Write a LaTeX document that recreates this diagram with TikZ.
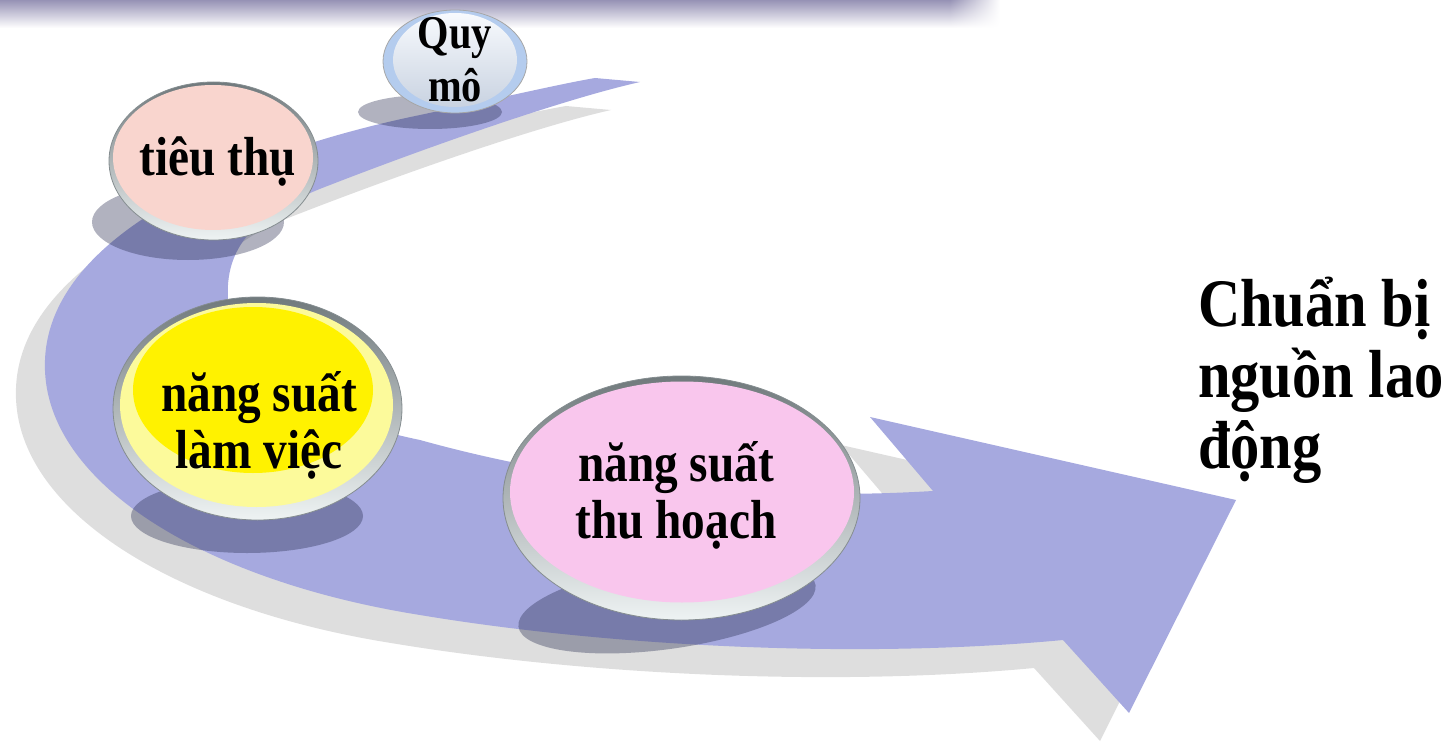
\documentclass[tikz,border=0pt]{standalone}
\usepackage{fontspec}
\setmainfont[FakeStretch=0.86]{Liberation Serif}
\usetikzlibrary{shapes.geometric,fadings}

\definecolor{bandblue}{RGB}{166,169,223}
\definecolor{bandgray}{RGB}{222,222,222}
\definecolor{dropcol}{RGB}{38,42,78}
\definecolor{rimdark}{RGB}{112,121,124}
\definecolor{rimlight}{RGB}{238,243,243}
\definecolor{salmon}{RGB}{249,213,206}
\definecolor{orchid}{RGB}{249,198,237}
\definecolor{paleyellow}{RGB}{252,250,155}
\definecolor{skyrim}{RGB}{180,204,238}
\definecolor{barcol}{RGB}{150,146,181}

% the curved arrow band, pixel units, y down
\newcommand{\bandpath}{(595,78) -- (640,82)
  .. controls (560,100) and (420,150) .. (330,185)
  .. controls (250,215) and (225,250) .. (228,300)
  .. controls (232,370) and (300,415) .. (420,440)
  .. controls (600,490) and (780,500) .. (933,491)
  -- (870,417) -- (1236,500) -- (1129,713) -- (1063,640)
  .. controls (850,660) and (600,645) .. (420,615)
  .. controls (200,580) and (40,480) .. (45,360)
  .. controls (50,230) and (250,150) .. (420,115)
  .. controls (500,98) and (560,84) .. (595,78) -- cycle}

\begin{document}
\begin{tikzpicture}[x=1pt,y=-1pt]
  \tikzstyle{every node}=[inner sep=0pt,align=center,
                          font=\bfseries\fontsize{55}{57}\selectfont]
  \tikzstyle{bubble}=[ellipse,inner sep=0pt]
  \tikzstyle{rim}=[bubble,top color=rimdark,bottom color=rimlight,
                   draw=rimdark!85,line width=0.8pt]
  \tikzstyle{drop}=[fill=dropcol,opacity=0.36]
\useasboundingbox (0,0) rectangle (1447,743);

% title bar shadow
\shade[top color=barcol,middle color=barcol!25,bottom color=white]
  (0,0) rectangle (950,28);
\shade[top color=barcol,middle color=barcol!25,bottom color=white,
  path fading=east] (950,0) rectangle (1000,28);

% band and its shadow
\fill[bandgray,shift={(-29,28)}] \bandpath;
\fill[bandblue] \bandpath;

% drop shadows of the bubbles
\fill[drop] (430,112) ellipse (72pt and 17pt);
\fill[drop] (188,222) ellipse (96pt and 38pt);
\fill[drop] (247,516) ellipse (116pt and 37pt);
\fill[drop,rotate around={8:(667,606)}] (667,606) ellipse (150pt and 43pt);

% bubbles
\node[bubble,fill=skyrim,draw=gray!70,line width=0.8pt,
      minimum width=144pt,minimum height=103pt] (quymo) at (455,61.5) {};
\node[bubble,top color=white!90!skyrim,bottom color=gray!30!skyrim!60,
      minimum width=124pt,minimum height=94pt] (quymo-in) at (455,60) {};

\node[rim,minimum width=209pt,minimum height=158pt] (tieuthu) at (213.5,161) {};
\node[bubble,fill=salmon,minimum width=200pt,minimum height=145pt]
  (tieuthu-in) at (213,157.5) {};

\node[rim,minimum width=289pt,minimum height=223pt] (lamviec) at (257.5,408.5) {};
\node[bubble,fill=paleyellow,minimum width=273pt,minimum height=204pt]
  (lamviec-in) at (256.5,405) {};
\node[bubble,fill=yellow,minimum width=240pt,minimum height=166pt]
  (lamviec-core) at (253,390) {};

\node[rim,minimum width=357pt,minimum height=244pt] (thuhoach) at (681.5,498) {};
\node[bubble,fill=orchid,minimum width=344pt,minimum height=221pt]
  (thuhoach-in) at (682,492) {};

% labels
\node[font=\bfseries\fontsize{47}{53}\selectfont] (t-quymo) at (455,60) {Quy\\mô};
\node (t-tieuthu) at (218,162) {tiêu thụ};
\node (t-lamviec) at (259,425) {năng suất\\làm việc};
\node (t-thuhoach) at (676,495) {năng suất\\thu hoạch};
\node[anchor=north west,align=left,font=\bfseries\fontsize{68}{71}\selectfont]
  (chuanbi) at (1198,277) {Chuẩn bị\\nguồn lao\\động};

\end{tikzpicture}
\end{document}
